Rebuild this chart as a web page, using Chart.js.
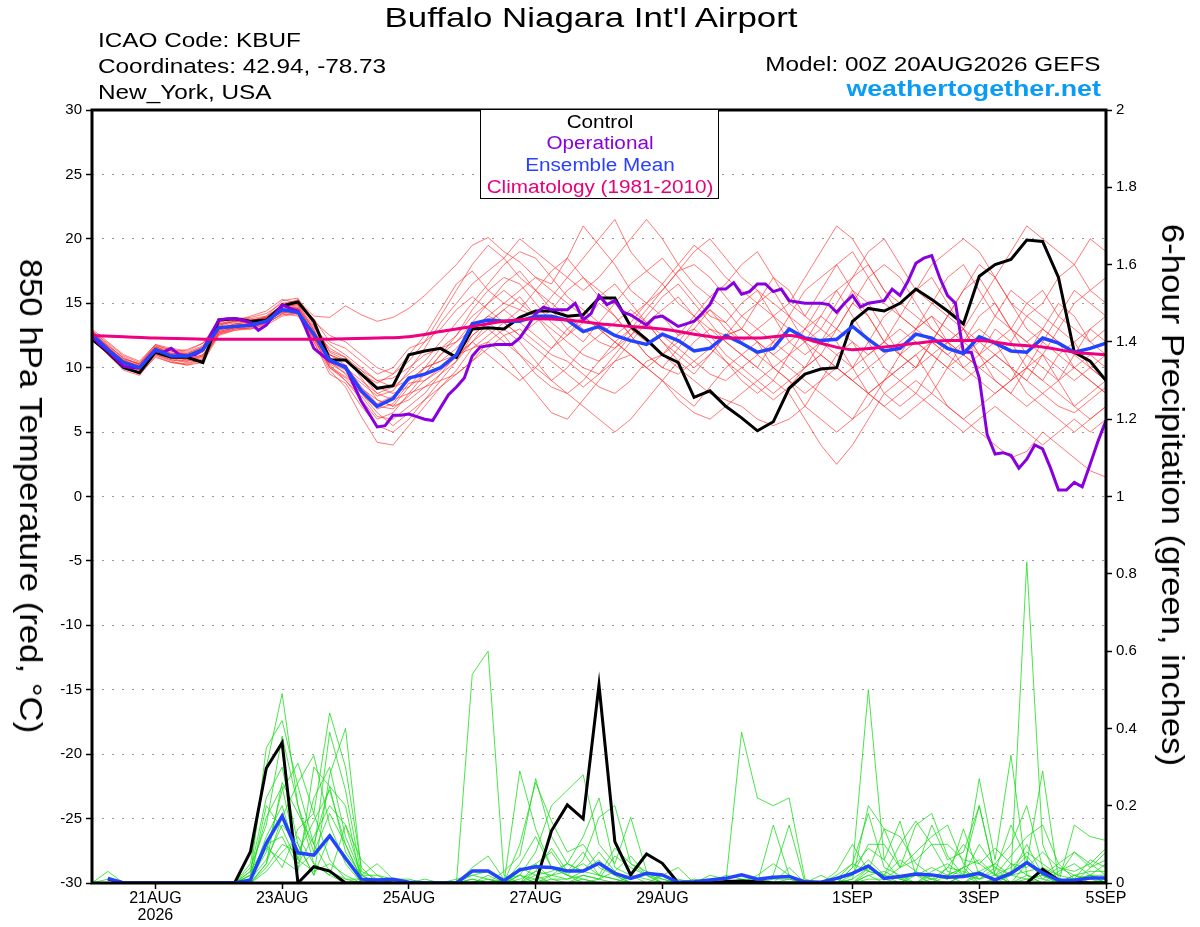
<!DOCTYPE html>
<html>
<head>
<meta charset="utf-8">
<title>Buffalo Niagara Int'l Airport - GEFS</title>
<script src="https://cdn.jsdelivr.net/npm/chart.js@4.4.1/dist/chart.umd.min.js"></script>
<style>
  html, body { margin: 0; padding: 0; background: #fff; }
  #wrap { position: relative; width: 1200px; height: 927px; font-family: "Liberation Sans", Arial, sans-serif; }
  #wrap canvas { position: absolute; left: 0; top: 0; }
  .txt { position: absolute; white-space: nowrap; color: #000; }
  .hdr { font-size: 20.5px; line-height: 20.5px; transform: scaleX(1.187); }
  .lft { transform-origin: left center; }
  .rgt { transform-origin: right center; }
  #legendBox { position: absolute; left: 480px; top: 109px; width: 237px; height: 88px;
               border: 1.5px solid #000; background: #fff; }
  .leg { left: 480px; width: 240px; text-align: center; font-size: 18px; line-height: 18px;
         transform: scaleX(1.15); transform-origin: center center; }
  .axTitle { font-size: 32px; line-height: 32px; transform: translate(-50%, -50%) rotate(90deg) scaleX(1.085); }
</style>
</head>
<body>
<div id="wrap">
  <canvas id="chart" width="1200" height="927"></canvas>
  <div class="txt" style="left:0; width:1182px; top:4px; font-size:28px; line-height:28px; text-align:center; transform:scaleX(1.245);">Buffalo Niagara Int'l Airport</div>
  <div class="txt hdr lft" style="left:98px; top:29.5px;">ICAO Code: KBUF</div>
  <div class="txt hdr lft" style="left:98px; top:55.5px;">Coordinates: 42.94, -78.73</div>
  <div class="txt hdr lft" style="left:98px; top:82px;">New_York, USA</div>
  <div class="txt hdr rgt" style="right:99px; top:54px;">Model: 00Z 20AUG2026 GEFS</div>
  <div class="txt rgt" style="right:99px; top:77.7px; font-size:22.5px; line-height:22.5px; font-weight:bold; color:#0a9cf5; transform:scaleX(1.19);">weathertogether.net</div>
  <div id="legendBox"></div>
  <div class="txt leg" style="top:112.9px; color:#000;">Control</div>
  <div class="txt leg" style="top:134.4px; color:#8a00e0;">Operational</div>
  <div class="txt leg" style="top:156px; color:#2a40ff;">Ensemble Mean</div>
  <div class="txt leg" style="top:177.6px; color:#e8007a;">Climatology (1981-2010)</div>
  <div class="txt axTitle" style="left:31px; top:496px;">850 hPa Temperature (red, °C)</div>
  <div class="txt axTitle" style="left:1173px; top:495px;">6-hour Precipitation (green, inches)</div>
</div>
<script>
// ---- time axis (hours after 00Z 20AUG2026) ----
const HOURS_6 = Array.from({ length: 65 }, (_, i) => i * 6);
const HOURS_3 = Array.from({ length: 129 }, (_, i) => i * 3);
const HOURS_12 = Array.from({ length: 33 }, (_, i) => i * 12);

const TICK_HOURS = [24, 72, 120, 168, 216, 288, 336, 384];
const TICK_LABELS = [['21AUG', '2026'], '23AUG', '25AUG', '27AUG', '29AUG', '1SEP', '3SEP', '5SEP'];

// ---- 850 hPa temperature (C), 6-hourly ----
const TEMP_CONTROL = [12.2, 11.2, 10.0, 9.6, 11.2, 10.8, 10.8, 10.4, 13.7, 13.8, 13.6, 13.7, 14.8, 15.1, 13.6,
  10.6, 10.6, 9.5, 8.4, 8.6, 11.0, 11.3, 11.5, 10.8, 13.0, 13.1, 13.0, 13.9, 14.4, 14.4, 14.0, 14.1, 15.4,
  15.4, 13.2, 12.2, 11.0, 10.4, 7.7, 8.2, 7.0, 6.1, 5.1, 5.8, 8.4, 9.5, 9.9, 10.0, 13.6, 14.6, 14.4, 15.0,
  16.1, 15.3, 14.4, 13.4, 17.1, 18.0, 18.4, 19.9, 19.8, 17.0, 11.2, 10.5, 9.0];

const TEMP_MEAN = [12.6, 11.4, 10.4, 10.0, 11.4, 10.9, 10.9, 11.4, 13.1, 13.2, 13.3, 13.6, 14.5, 14.3, 12.6,
  10.6, 10.0, 8.2, 7.0, 7.6, 9.2, 9.5, 10.0, 11.0, 13.4, 13.7, 13.6, 13.6, 14.0, 14.0, 13.7, 12.8, 13.2,
  12.5, 12.1, 11.8, 12.6, 12.1, 11.3, 11.5, 12.5, 11.9, 11.2, 11.5, 13.0, 12.3, 12.1, 12.2, 13.2, 12.2,
  11.3, 11.5, 12.6, 12.3, 11.5, 11.1, 12.4, 11.9, 11.3, 11.2, 12.3, 11.9, 11.2, 11.5, 11.9];

// operational run, 3-hourly
const TEMP_OPER = [
  12.4, 11.8, 11.3, 10.7, 10.1, 10.0, 10.0, 10.7,
  11.3, 11.2, 11.5, 11.0, 10.9, 11.0, 11.4, 12.6,
  13.7, 13.8, 13.8, 13.7, 13.5, 12.9, 13.3, 14.1,
  14.9, 14.6, 14.4, 13.0, 11.5, 11.0, 10.5, 10.3,
  10.1, 8.7, 7.4, 6.4, 5.4, 5.5, 6.3, 6.3,
  6.4, 6.2, 6.0, 5.9, 6.9, 7.9, 8.5, 9.2,
  10.9, 11.6, 11.7, 11.8, 11.8, 11.8, 12.3, 13.2,
  14.2, 14.7, 14.5, 14.5, 14.5, 15.0, 13.7, 14.2,
  15.6, 14.9, 15.2, 14.3, 14.1, 13.7, 13.3, 13.9,
  14.0, 13.6, 13.2, 13.4, 13.6, 14.2, 14.9, 16.1,
  16.1, 16.6, 15.7, 15.9, 16.5, 16.5, 15.9, 16.1,
  15.2, 15.1, 15.0, 15.0, 15.0, 14.9, 14.3, 15.0,
  15.6, 14.7, 15.0, 15.1, 15.2, 16.1, 15.6, 16.7,
  18.1, 18.5, 18.7, 17.0, 15.6, 15.0, 11.2, 11.2,
  9.2, 4.8, 3.3, 3.4, 3.2, 2.2, 2.9, 4.0,
  3.7, 2.2, 0.5, 0.5, 1.1, 0.75, 2.5, 4.3,
  5.9];

// climatology, 12-hourly
const TEMP_CLIMO = [12.5, 12.4, 12.3, 12.25, 12.2, 12.2, 12.2, 12.2, 12.25, 12.3, 12.4, 12.8, 13.2, 13.6,
  13.8, 13.7, 13.4, 13.2, 13.0, 12.6, 12.3, 12.3, 12.5, 11.9, 11.4, 11.6, 11.9, 12.1, 12.1, 11.8, 11.6,
  11.2, 11.0];

// ensemble members (thin red), 6-hourly
const TEMP_MEMBERS = [
  [12.8, 11.9, 10.9, 10.4, 11.8, 11.5, 11.3, 11.9, 13.4, 13.7, 13.9, 14.2, 15.0, 15.2, 14.0,
   13.9, 14.8, 14.1, 13.6, 13.9, 14.6, 15.6, 16.8, 18.0,
   19.5, 20.1, 19.0, 18.2, 17.0, 16.5, 18.5, 21.0, 19.5, 18.0, 16.0, 15.0, 14.0, 12.5, 13.0, 14.5, 13.0,
   12, 13, 14, 12, 11, 12, 13, 15, 14, 12, 11, 13, 14, 12, 10, 11, 13, 12, 10, 9, 11, 12, 10, 9],
  [12.4, 11.0, 9.8, 9.4, 10.9, 10.4, 10.2, 10.6, 12.7, 13.0, 13.1, 13.5, 14.4, 14.6, 12.0,
   9.8, 8.5, 6.2, 4.2, 4.0, 5.5, 7.0, 8.5, 9.8,
   11.5, 12.0, 11.0, 9.5, 8.0, 6.5, 6.0, 7.5, 9.0, 10.5, 11.0, 10.0, 9.0, 7.5, 6.5, 6.0, 7.0,
   8, 9, 10, 9, 7, 6, 5, 6, 8, 9, 10, 11, 9, 7, 6, 5, 4, 3, 3.5, 5, 4, 3, 2, 1.5],
  [12.9, 11.6, 10.5, 10.2, 11.5, 11.2, 11.4, 11.9, 13.6, 13.9, 13.8, 14.0, 15.2, 15.4, 13.5,
   11.2, 10.6, 9.5, 8.8, 9.5, 11.0, 12.5, 14.5, 16.5,
   17.5, 16.0, 15.0, 14.5, 14.0, 15.5, 17.0, 18.5, 20.0, 21.5, 19.0, 17.5, 16.5, 15.0, 14.0, 13.0, 12.5,
   13, 15, 17, 16, 14, 13, 15, 17, 19, 20, 18, 16, 15, 14, 16, 18, 17, 15, 13, 12, 14, 16, 15, 14],
  [12.3, 11.2, 10.1, 9.7, 11.0, 10.6, 10.5, 10.9, 12.9, 13.3, 13.4, 13.8, 14.6, 14.8, 12.5,
   10.2, 9.0, 7.5, 6.0, 6.5, 8.0, 8.5, 9.5, 10.5,
   12.5, 13.5, 14.5, 15.5, 14.0, 12.5, 11.0, 10.0, 9.5, 10.5, 12.0, 13.5, 12.0, 10.5, 9.5, 11.0, 12.5,
   13, 12, 10, 9, 8, 9, 11, 12, 10, 8, 7, 8, 10, 12, 13, 11, 9, 8, 10, 11, 9, 7, 6, 7],
  [12.7, 11.5, 10.6, 10.3, 11.7, 11.0, 10.8, 11.2, 13.0, 13.4, 13.6, 14.0, 14.8, 14.6, 13.0,
   11.5, 10.8, 9.2, 7.5, 7.0, 8.5, 10.0, 11.5, 12.5,
   14.0, 15.0, 16.5, 17.5, 16.0, 14.5, 13.0, 12.0, 13.5, 15.0, 16.5, 17.5, 18.5, 17.0, 15.5, 14.0, 13.5,
   15, 16, 14, 13, 12, 14, 16, 17, 18, 16, 14, 13, 12, 11, 12, 14, 15, 13, 12, 13, 15, 14, 12, 11],
  [12.5, 11.3, 10.2, 9.8, 11.2, 10.8, 10.9, 11.5, 13.2, 13.5, 13.2, 13.4, 14.2, 14.0, 12.2,
   10.0, 9.2, 8.0, 6.5, 5.5, 6.5, 7.5, 8.5, 9.5,
   10.5, 11.5, 12.5, 13.0, 12.0, 11.0, 10.5, 9.5, 8.5, 8.0, 9.0, 10.5, 11.0, 10.0, 9.0, 8.0, 7.5,
   7, 6, 5.5, 6, 7, 9, 10, 9, 8, 7, 8, 9, 8, 7, 6, 7, 8, 9, 10, 9, 8, 7, 8, 9],
  [12.2, 11.0, 10.0, 9.6, 11.0, 10.5, 10.2, 10.4, 12.5, 12.9, 13.0, 13.3, 14.0, 14.2, 12.8,
   11.0, 10.5, 9.5, 8.0, 7.5, 8.0, 9.5, 11.0, 12.5,
   14.5, 16.0, 17.0, 16.5, 15.0, 13.5, 12.5, 13.5, 15.0, 14.0, 12.5, 11.0, 10.0, 11.5, 13.0, 12.0, 10.5,
   9, 8, 9, 11, 13, 15, 16, 14, 12, 10, 9, 10, 12, 14, 13, 11, 10, 9, 11, 13, 12, 10, 9, 8],
  [13.0, 12.0, 11.0, 10.5, 11.8, 11.3, 11.0, 11.4, 13.3, 13.6, 14.0, 14.4, 15.3, 15.0, 13.8,
   12.0, 11.5, 10.5, 9.5, 10.0, 11.5, 12.0, 13.0, 14.5,
   15.5, 14.5, 13.5, 12.5, 13.5, 14.5, 16.0, 17.0, 16.0, 15.0, 14.0, 15.0, 16.5, 18.0, 19.5, 18.5, 17.0,
   16, 15, 14, 15, 17, 19, 21, 20, 18, 16, 15, 14, 13, 12, 13, 15, 17, 19, 21, 20, 19, 18, 20, 19],
  [12.6, 11.6, 10.6, 10.1, 11.5, 11.0, 10.7, 11.0, 12.8, 13.1, 13.5, 13.9, 14.7, 14.9, 12.9,
   10.5, 9.5, 8.0, 6.8, 7.2, 8.8, 9.0, 9.8, 10.8,
   12.0, 11.0, 10.0, 9.0, 10.0, 11.5, 13.0, 14.0, 13.0, 12.0, 11.0, 10.0, 9.0, 8.0, 7.0, 8.5, 10.0,
   11, 12, 11, 10, 9, 8, 7, 6, 7, 9, 11, 12, 11, 10, 9, 10, 11, 10, 8, 7, 6, 5, 6, 7],
  [12.4, 11.3, 10.3, 9.9, 11.3, 10.9, 10.6, 10.9, 12.9, 13.2, 13.4, 13.7, 14.3, 14.5, 12.7,
   10.8, 10.0, 9.0, 8.0, 8.5, 9.5, 10.5, 12.0, 13.5,
   15.0, 16.5, 18.0, 19.0, 18.5, 17.0, 15.5, 14.5, 13.5, 12.5, 13.5, 15.0, 16.0, 17.5, 19.0, 20.0, 18.5,
   17, 16, 15, 14, 13, 12, 11, 10, 11, 12, 13, 12, 11, 10, 11, 12, 14, 16, 15, 14, 13, 12, 13, 12],
  [12.8, 11.7, 10.8, 10.2, 11.6, 11.3, 11.1, 11.6, 13.5, 13.8, 13.7, 13.9, 14.8, 15.3, 13.3,
   11.0, 10.2, 8.5, 7.2, 7.8, 9.0, 10.0, 10.5, 11.5,
   13.0, 14.0, 13.5, 12.5, 11.5, 10.5, 9.5, 8.5, 9.5, 11.0, 12.5, 14.0, 15.5, 16.5, 15.0, 13.5, 12.0,
   11, 10, 12, 14, 16, 17, 18, 16, 14, 12, 11, 10, 12, 14, 16, 17, 15, 13, 11, 10, 9, 11, 13, 14],
  [12.3, 11.1, 10.0, 9.5, 10.8, 10.4, 10.3, 10.7, 12.6, 12.9, 13.1, 13.5, 14.1, 14.3, 12.3,
   10.1, 9.3, 8.4, 7.5, 7.0, 7.5, 8.5, 9.0, 9.5,
   10.5, 12.0, 13.0, 12.0, 10.5, 9.0, 8.0, 7.0, 6.0, 5.0, 6.0, 7.5, 9.0, 10.5, 12.0, 13.0, 12.0,
   11, 10, 9, 8, 6, 4, 2.5, 4, 6, 8, 9, 8, 7, 6, 5, 6, 7, 6, 5, 4, 5, 6, 5, 6],
  [12.7, 11.5, 10.4, 10.0, 11.4, 10.9, 10.8, 11.3, 13.1, 13.3, 13.4, 13.8, 14.6, 14.1, 12.4,
   10.4, 9.8, 8.8, 7.8, 8.2, 9.8, 11.5, 13.5, 15.0,
   16.5, 17.5, 18.5, 20.0, 19.0, 18.0, 17.0, 16.0, 17.0, 18.5, 20.0, 21.5, 20.0, 18.0, 16.5, 15.5, 16.5,
   18, 19, 17, 15, 14, 16, 18, 19, 17, 15, 14, 13, 15, 17, 18, 16, 14, 13, 15, 16, 14, 13, 12, 13],
  [12.5, 11.4, 10.5, 10.1, 11.3, 10.7, 10.5, 10.8, 12.7, 13.1, 13.3, 13.7, 14.5, 14.7, 13.1,
   11.8, 11.0, 10.0, 9.0, 8.5, 9.0, 10.0, 10.5, 11.0,
   12.0, 13.0, 12.0, 11.0, 10.0, 9.0, 10.0, 11.5, 12.5, 13.5, 14.5, 13.5, 12.5, 11.5, 10.5, 9.5, 9.0,
   10, 11, 12, 13, 12, 11, 10, 9, 10, 11, 12, 13, 14, 13, 12, 11, 12, 13, 12, 11, 10, 9, 10, 11],
  [12.9, 11.8, 10.7, 10.3, 11.7, 11.4, 11.2, 11.7, 13.6, 13.8, 13.6, 13.9, 14.9, 15.1, 13.6,
   12.5, 12.0, 11.0, 10.0, 9.5, 10.5, 12.0, 14.0, 16.0,
   18.0, 19.5, 18.5, 17.0, 16.0, 15.0, 14.0, 13.0, 12.0, 11.5, 12.5, 13.5, 14.5, 15.5, 14.0, 12.5, 11.0,
   10, 9, 8, 9, 10, 12, 14, 16, 15, 13, 11, 10, 11, 12, 11, 10, 9, 8, 7, 8, 9, 10, 11, 10],
  [12.4, 11.2, 10.2, 9.8, 11.1, 10.6, 10.4, 10.6, 12.6, 13.0, 13.2, 13.6, 14.3, 14.2, 12.0,
   9.5, 8.8, 7.0, 5.5, 5.0, 6.0, 7.5, 9.0, 10.5,
   12.0, 13.5, 14.5, 13.5, 12.5, 11.5, 12.5, 14.0, 15.5, 16.5, 15.0, 13.5, 12.0, 11.0, 10.0, 11.0, 12.5,
   14, 15, 16, 14, 12, 10, 9, 10, 12, 14, 15, 16, 17, 15, 13, 12, 11, 10, 9, 11, 13, 15, 16, 17],
  [12.6, 11.7, 10.7, 10.3, 11.6, 11.1, 11.0, 11.5, 13.3, 13.6, 13.6, 13.9, 14.5, 14.4, 12.6,
   10.3, 9.6, 8.3, 7.0, 6.8, 7.8, 9.0, 10.0, 11.0,
   11.5, 12.5, 13.5, 14.5, 16.0, 17.5, 18.5, 17.0, 15.5, 14.0, 12.5, 11.0, 10.0, 9.5, 10.5, 11.5, 10.5,
   9.5, 8.5, 7.5, 8.5, 10, 11, 10, 9, 8, 9, 10, 11, 12, 11, 10, 9, 8, 9, 10, 12, 11, 10, 9, 8],
  [12.3, 11.2, 10.3, 9.9, 11.2, 10.8, 10.6, 11.0, 12.8, 13.1, 13.0, 13.4, 14.2, 14.6, 12.9,
   11.0, 10.5, 9.8, 9.0, 9.2, 10.0, 11.0, 11.5, 12.0,
   13.0, 14.0, 15.0, 16.0, 17.0, 16.0, 15.0, 14.0, 13.0, 12.0, 11.0, 10.0, 11.0, 12.5, 14.0, 15.5, 14.5,
   13, 12, 11, 12, 13, 14, 13, 12, 11, 12, 14, 16, 18, 19, 20, 19, 17, 15, 14, 15, 17, 18, 16, 15],
  [12.7, 11.4, 10.3, 9.8, 11.3, 11.0, 10.9, 11.3, 13.0, 13.4, 13.5, 13.7, 14.4, 14.3, 12.3,
   10.0, 9.0, 7.8, 6.2, 6.0, 7.0, 8.0, 9.5, 11.0,
   12.5, 13.5, 12.5, 11.0, 9.5, 8.5, 8.0, 9.0, 10.5, 12.0, 13.0, 12.0, 11.0, 12.0, 13.5, 14.5, 13.5,
   12, 11, 10, 11, 12, 13, 12, 10, 8, 7, 6, 7, 8, 10, 12, 13, 12, 10, 9, 8, 7, 6.5, 7.5, 8.5],
  [12.5, 11.6, 10.5, 10.0, 11.5, 11.1, 11.1, 11.6, 13.4, 13.6, 13.5, 13.8, 14.7, 14.9, 13.2,
   11.3, 10.8, 9.8, 8.5, 8.0, 8.5, 9.5, 11.0, 12.0,
   13.5, 15.0, 16.0, 15.0, 14.0, 13.0, 12.0, 11.0, 10.5, 11.5, 13.0, 14.5, 16.0, 17.5, 18.0, 17.0, 15.5,
   14, 13, 12, 11, 10, 11, 13, 15, 17, 18, 17, 15, 13, 12, 11, 10, 11, 12, 14, 13, 12, 11, 10, 9]
];

// ---- 6-hour precipitation (inches) ----
const PRECIP_CONTROL = [null, 0.01, 0, 0, 0, 0, 0, 0, 0, 0, 0.081, 0.297, 0.363, 0, 0.042, 0.031, 0, 0, 0, 0,
  0, 0, 0, 0, 0, 0, 0, 0, 0, 0.135, 0.202, 0.166, 0.512, 0.107, 0.021, 0.075, 0.051, 0, 0, 0,
  0.004, 0.005, 0.003, 0, 0, 0, 0, 0, 0, 0, 0, 0, 0, 0, 0, 0, 0, 0, 0, 0, 0.035, 0.008, 0.002, 0, 0];

const PRECIP_MEAN = [null, 0.012, 0, 0, 0, 0, 0, 0, 0, 0, 0.008, 0.103, 0.173, 0.078, 0.072, 0.122, 0.064,
  0.01, 0.008, 0.01, 0.002, 0, 0, 0, 0.031, 0.031, 0.006, 0.034, 0.042, 0.04, 0.031, 0.031, 0.051, 0.025,
  0.012, 0.025, 0.021, 0.002, 0.003, 0.008, 0.012, 0.021, 0.01, 0.015, 0.017, 0.003, 0.002, 0.012, 0.025,
  0.044, 0.012, 0.017, 0.023, 0.021, 0.015, 0.017, 0.025, 0.008, 0.025, 0.053, 0.026, 0.007, 0.007,
  0.013, 0.013];

// ensemble members (thin green), 6-hourly
const PRECIP_MEMBERS = [
  [0, 0.03, 0, 0, 0, 0, 0, 0, 0, 0,  0.05, 0.3, 0.49, 0.2, 0.05, 0.02, 0, 0, 0.01, 0,
   0, 0, 0, 0, 0.02, 0.01, 0, 0.05, 0.12, 0.04,  0.02, 0, 0.01, 0, 0, 0, 0, 0, 0.01, 0,
   0, 0, 0, 0, 0, 0, 0, 0.02, 0.05, 0.18,  0.04, 0.02, 0, 0.03, 0.05, 0.02, 0.1, 0.04, 0, 0.05,
   0.02, 0, 0, 0.04, 0.08],
  [0, 0, 0, 0, 0, 0, 0, 0, 0, 0,  0.02, 0.35, 0.42, 0.25, 0.1, 0.03, 0.01, 0, 0, 0,
   0, 0, 0, 0, 0.54, 0.6, 0.02, 0, 0.01, 0,  0, 0, 0, 0, 0, 0, 0, 0, 0, 0,
   0, 0, 0, 0, 0, 0, 0, 0, 0.01, 0.04,  0.02, 0, 0, 0.01, 0, 0, 0.02, 0.05, 0.1, 0.2,
   0.04, 0, 0.02, 0, 0],
  [0, 0, 0, 0, 0, 0, 0, 0, 0, 0,  0.01, 0.08, 0.24, 0.31, 0.18, 0.44, 0.3, 0.04, 0, 0,
   0, 0, 0, 0, 0, 0.02, 0, 0.29, 0.14, 0.04,  0.02, 0.01, 0, 0, 0.02, 0, 0, 0, 0, 0,
   0, 0.39, 0.22, 0.2, 0.22, 0.01, 0, 0, 0, 0.02,  0, 0, 0.02, 0.04, 0.02, 0, 0.03, 0, 0.05, 0.02,
   0, 0.03, 0.05, 0.02, 0],
  [0, 0.01, 0, 0, 0, 0, 0, 0, 0, 0,  0.04, 0.15, 0.38, 0.2, 0.08, 0.39, 0.24, 0.02, 0.02, 0.01,
   0, 0, 0, 0, 0.01, 0, 0.03, 0.07, 0.27, 0.12,  0.05, 0.03, 0.08, 0.03, 0, 0, 0, 0, 0, 0,
   0, 0, 0, 0, 0, 0, 0, 0, 0.04, 0.5,  0.06, 0.01, 0, 0, 0.02, 0.04, 0, 0, 0.02, 0.05,
   0.29, 0.01, 0, 0, 0],
  [0, 0, 0, 0, 0, 0, 0, 0, 0, 0,  0, 0.05, 0.17, 0.26, 0.33, 0.15, 0.05, 0, 0, 0,
   0, 0, 0, 0.01, 0.02, 0.03, 0, 0.02, 0.08, 0.2,  0.24, 0.28, 0.1, 0.05, 0.17, 0.03, 0, 0, 0, 0,
   0, 0.01, 0, 0.02, 0.15, 0, 0, 0, 0.01, 0.2,  0.14, 0.04, 0.15, 0.18, 0.07, 0.02, 0, 0.01, 0.02, 0.83,
   0.1, 0, 0.15, 0.12, 0.11],
  [0, 0, 0, 0, 0, 0, 0, 0, 0, 0,  0.03, 0.22, 0.3, 0.1, 0.02, 0.28, 0.4, 0.03, 0.01, 0,
   0, 0, 0, 0, 0, 0, 0.01, 0.02, 0, 0.02,  0.03, 0.05, 0.02, 0.09, 0.05, 0.02, 0, 0, 0, 0,
   0, 0, 0, 0, 0, 0, 0, 0, 0.02, 0.06,  0.02, 0.1, 0.16, 0.1, 0.03, 0.02, 0.27, 0.06, 0.33, 0.02,
   0, 0, 0.01, 0.06, 0.04],
  [0, 0, 0, 0, 0, 0, 0, 0, 0, 0,  0.01, 0.12, 0.2, 0.06, 0.22, 0.3, 0.12, 0.02, 0.05, 0.01,
   0.01, 0, 0, 0, 0, 0, 0, 0.01, 0.03, 0.02,  0.01, 0.02, 0.01, 0.07, 0.04, 0.02, 0.01, 0, 0, 0,
   0.02, 0.01, 0.01, 0, 0.04, 0, 0, 0.01, 0, 0.03,  0.02, 0.06, 0.03, 0.15, 0.06, 0.08, 0.2, 0.02, 0.04, 0.08,
   0.05, 0.02, 0.08, 0.04, 0.06],
  [0, 0, 0, 0, 0, 0, 0, 0, 0, 0,  0, 0.05, 0.26, 0.18, 0.1, 0.25, 0.2, 0, 0, 0,
   0, 0, 0, 0, 0, 0.01, 0, 0.04, 0.02, 0.03,  0.05, 0.12, 0.22, 0.04, 0.02, 0.01, 0, 0, 0, 0,
   0, 0, 0.02, 0.05, 0.02, 0, 0.02, 0, 0.04, 0.09,  0.06, 0.16, 0.02, 0.01, 0.04, 0.03, 0.01, 0.04, 0.02, 0.1,
   0.02, 0.05, 0.08, 0.05, 0.02],
  [0, 0, 0, 0, 0, 0, 0, 0, 0, 0,  0.02, 0.1, 0.12, 0.04, 0.08, 0.18, 0.1, 0.01, 0, 0,
   0, 0, 0, 0, 0.04, 0.07, 0.01, 0, 0.03, 0.09,  0.03, 0.08, 0.02, 0.01, 0, 0, 0, 0, 0, 0.02,
   0.01, 0, 0.01, 0, 0, 0, 0, 0.01, 0.02, 0.1,  0.1, 0.04, 0.06, 0.1, 0.1, 0.06, 0.05, 0.09, 0.05, 0.04,
   0.08, 0.04, 0.02, 0.03, 0.03],
  [0, 0, 0, 0, 0, 0, 0, 0, 0, 0,  0.01, 0.06, 0.15, 0.1, 0.02, 0.12, 0.07, 0, 0, 0,
   0, 0, 0, 0, 0, 0, 0, 0.1, 0.26, 0.16,  0.08, 0.1, 0.04, 0.02, 0, 0, 0.02, 0.04, 0, 0,
   0, 0, 0, 0.01, 0.01, 0, 0, 0, 0, 0,  0, 0, 0, 0.02, 0.01, 0.14, 0.02, 0.01, 0.03, 0.07,
   0.02, 0, 0, 0.02, 0],
  [0, 0, 0, 0, 0, 0, 0, 0, 0, 0,  0, 0.03, 0.08, 0.12, 0.05, 0.02, 0.15, 0.06, 0.02, 0,
   0, 0.01, 0, 0, 0, 0, 0, 0, 0.05, 0.08,  0.02, 0.06, 0.17, 0.2, 0.05, 0.03, 0.01, 0, 0, 0,
   0, 0, 0, 0.15, 0.02, 0, 0, 0, 0, 0,  0, 0, 0, 0, 0, 0.02, 0.01, 0.03, 0.15, 0.06,
   0.01, 0, 0, 0.02, 0.05],
  [0, 0, 0, 0, 0, 0, 0, 0, 0, 0,  0.02, 0.17, 0.25, 0.06, 0.03, 0.05, 0.02, 0, 0, 0,
   0, 0, 0, 0, 0, 0, 0, 0, 0, 0.01,  0.01, 0.03, 0.06, 0.02, 0, 0, 0, 0.01, 0, 0,
   0, 0, 0, 0, 0, 0, 0, 0.03, 0.1, 0.03,  0.14, 0.12, 0.05, 0.02, 0.01, 0.04, 0.2, 0.02, 0, 0.02,
   0.01, 0.04, 0.03, 0.05, 0.09],
  [0, 0, 0, 0, 0, 0, 0, 0, 0, 0,  0.03, 0.1, 0.04, 0.14, 0.18, 0.06, 0.01, 0.01, 0, 0,
   0, 0, 0, 0, 0, 0, 0, 0.02, 0.01, 0.02,  0.05, 0.03, 0.02, 0.01, 0, 0, 0, 0, 0, 0,
   0, 0, 0, 0, 0, 0, 0, 0, 0, 0.04,  0.01, 0.04, 0.08, 0.12, 0.15, 0.05, 0.01, 0.02, 0.02, 0.01,
   0, 0, 0.02, 0.01, 0],
  [0, 0, 0, 0, 0, 0, 0, 0, 0, 0,  0, 0.04, 0.1, 0.08, 0.16, 0.24, 0.1, 0.01, 0, 0,
   0, 0, 0, 0, 0.01, 0, 0, 0, 0, 0,  0, 0.02, 0.01, 0.03, 0.07, 0.02, 0, 0, 0, 0,
   0, 0, 0, 0, 0, 0, 0, 0, 0, 0.01,  0.01, 0, 0.03, 0.01, 0.02, 0.04, 0.06, 0.02, 0.07, 0.12,
   0.15, 0.05, 0.01, 0.02, 0.02],
  [0, 0, 0, 0, 0, 0, 0, 0, 0, 0,  0.01, 0.2, 0.14, 0.05, 0.12, 0.2, 0.15, 0.02, 0, 0,
   0, 0, 0, 0, 0, 0, 0, 0, 0.02, 0,  0, 0, 0, 0, 0, 0, 0, 0, 0, 0,
   0, 0, 0, 0, 0, 0, 0, 0, 0, 0.02,  0.03, 0.01, 0, 0, 0.04, 0.1, 0.05, 0.02, 0, 0.01,
   0.02, 0.01, 0, 0, 0.01],
  [0, 0, 0, 0, 0, 0, 0, 0, 0, 0,  0.01, 0.09, 0.06, 0.03, 0.3, 0.25, 0.08, 0.02, 0, 0,
   0, 0, 0, 0, 0, 0, 0, 0.03, 0.05, 0.01,  0, 0.01, 0, 0, 0, 0, 0, 0, 0, 0,
   0, 0, 0, 0, 0.01, 0, 0, 0.01, 0.05, 0.03,  0.02, 0.01, 0.02, 0, 0, 0.02, 0.03, 0.05, 0.02, 0.03,
   0.04, 0.02, 0.01, 0.02, 0.01]
];

// ---- colours ----
const COLOR_CONTROL = '#000000';
const COLOR_OPER = '#8800dd';
const COLOR_MEAN = '#2244ff';
const COLOR_CLIMO = '#ee0080';
const COLOR_MEMBER_T = 'rgba(255, 40, 40, 0.7)';
const COLOR_MEMBER_P = 'rgba(20, 220, 20, 0.85)';

function toPoints(hours, values) {
  return values.map((v, i) => ({ x: hours[i], y: v }));
}

function lineSet(label, hours, values, color, width, axis, extra) {
  return Object.assign({
    label: label,
    data: toPoints(hours, values),
    borderColor: color,
    backgroundColor: color,
    borderWidth: width,
    pointRadius: 0,
    tension: 0,
    fill: false,
    spanGaps: false,
    yAxisID: axis
  }, extra || {});
}

// first dataset ends up on top
const datasets = [
  lineSet('Climatology (1981-2010)', HOURS_12, TEMP_CLIMO, COLOR_CLIMO, 3, 'y', { cubicInterpolationMode: 'monotone' }),
  lineSet('Ensemble Mean', HOURS_6, TEMP_MEAN, COLOR_MEAN, 3.5, 'y'),
  lineSet('Operational', HOURS_3, TEMP_OPER, COLOR_OPER, 3, 'y'),
  lineSet('Control', HOURS_6, TEMP_CONTROL, COLOR_CONTROL, 3, 'y'),
  lineSet('Ensemble Mean precip', HOURS_6, PRECIP_MEAN, COLOR_MEAN, 3.5, 'y2'),
  lineSet('Control precip', HOURS_6, PRECIP_CONTROL, COLOR_CONTROL, 3, 'y2')
];
TEMP_MEMBERS.forEach((m, i) => datasets.push(lineSet('Member ' + (i + 1), HOURS_6, m, COLOR_MEMBER_T, 0.9, 'y')));
PRECIP_MEMBERS.forEach((m, i) => datasets.push(lineSet('Member precip ' + (i + 1), HOURS_6, m, COLOR_MEMBER_P, 0.9, 'y2')));

// thick black frame around the plot area
const frameBox = {
  id: 'frameBox',
  afterDatasetsDraw(chart) {
    const { ctx, chartArea: a } = chart;
    ctx.save();
    ctx.strokeStyle = '#000';
    ctx.lineWidth = 3;
    ctx.strokeRect(a.left, a.top, a.right - a.left, a.bottom - a.top);
    ctx.restore();
  }
};

Chart.defaults.font.family = '"Liberation Sans", Arial, sans-serif';
Chart.defaults.color = '#000';

new Chart(document.getElementById('chart').getContext('2d'), {
  type: 'line',
  data: { datasets: datasets },
  options: {
    responsive: false,
    animation: false,
    events: [],
    layout: { padding: { top: 110, left: 0, right: 0, bottom: 0 } },
    plugins: { legend: { display: false }, tooltip: { enabled: false } },
    scales: {
      x: {
        type: 'linear',
        min: 0,
        max: 384,
        afterFit: s => { s.height = 44; },
        afterBuildTicks: s => { s.ticks = TICK_HOURS.map(v => ({ value: v })); },
        ticks: {
          autoSkip: false,
          maxRotation: 0,
          padding: 1,
          font: { size: 16, lineHeight: 1.05 },
          callback: (v, i) => TICK_LABELS[i]
        },
        grid: { drawOnChartArea: false, tickLength: 6, tickColor: '#000', tickWidth: 1.5 },
        border: { display: false }
      },
      y: {
        position: 'left',
        min: -30,
        max: 30,
        afterFit: s => { s.width = 92; },
        ticks: { stepSize: 5, padding: 4, font: { size: 15 } },
        grid: { color: '#999', lineWidth: 1, tickLength: 6, tickColor: '#000', tickWidth: 1.5 },
        border: { display: false, dash: [2, 8] }
      },
      y2: {
        position: 'right',
        min: 0,
        max: 2,
        afterFit: s => { s.width = 94; },
        ticks: { stepSize: 0.2, padding: 4, font: { size: 15 }, callback: v => String(+v.toFixed(1)) },
        grid: { drawOnChartArea: false, tickLength: 6, tickColor: '#000', tickWidth: 1.5 },
        border: { display: false }
      }
    }
  },
  plugins: [frameBox]
});
</script>
</body>
</html>
